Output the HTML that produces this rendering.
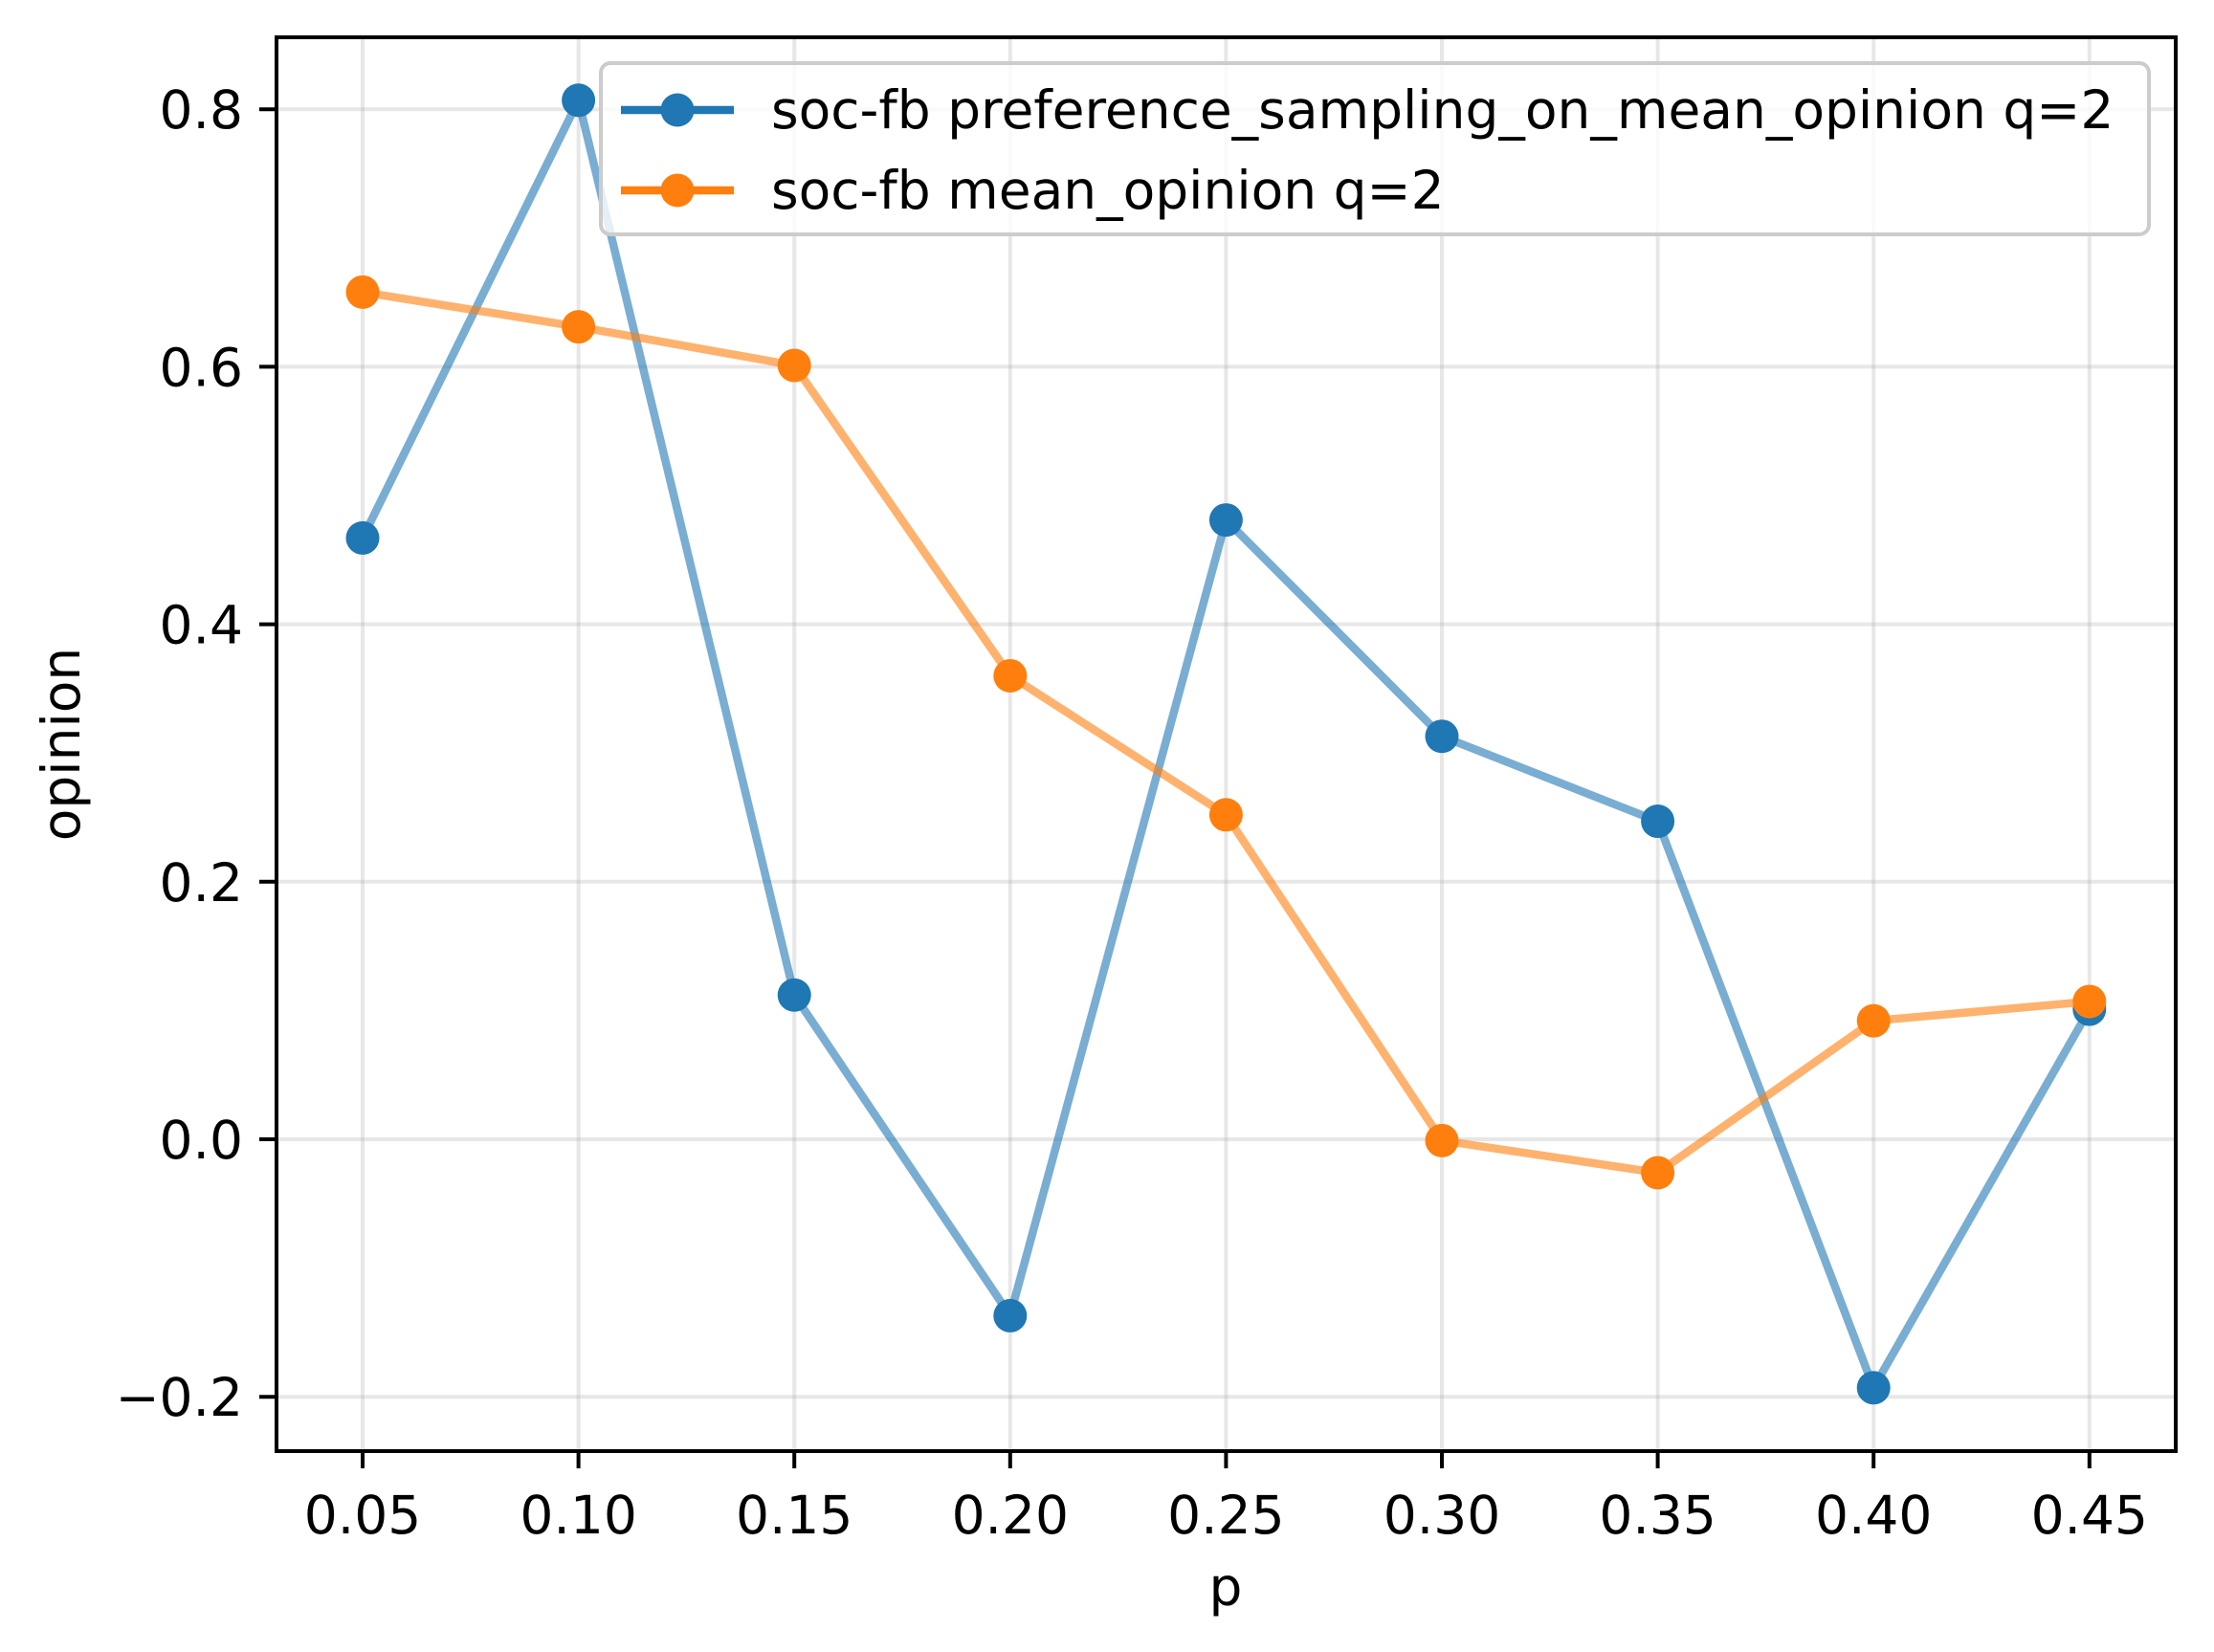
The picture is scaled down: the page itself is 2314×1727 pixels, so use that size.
<!DOCTYPE html>
<html><head><meta charset="utf-8"><style>
html,body{margin:0;padding:0;background:#fff}
svg{display:block;font-family:"DejaVu Sans","Liberation Sans",sans-serif}
</style></head><body>
<svg id="chart" width="2314" height="1727" viewBox="0 0 2314 1727">
<rect x="0" y="0" width="2314" height="1727" fill="#fff"/>
<g id="grid"></g>
<g id="series"></g>
<rect x="289" y="39" width="1985" height="1478" fill="none" stroke="#000" stroke-width="4"/>
<g id="ticks"></g>
<text x="68" y="778" font-size="55" text-anchor="middle" transform="rotate(-90 68 778)" dominant-baseline="middle">opinion</text>
<text x="1281" y="1678" font-size="55" text-anchor="middle">p</text>
<g>
<rect x="628" y="66" width="1618" height="179" rx="10" fill="#fff" fill-opacity="0.8" stroke="#ccc" stroke-width="4"/>
<g>
<line x1="649" y1="115" x2="767" y2="115" stroke="#1f77b4" stroke-width="8.5"/>
<circle cx="708" cy="115" r="17.5" fill="#1f77b4"/>
<text x="806" y="134" font-size="55">soc-fb preference_sampling_on_mean_opinion q=2</text>
</g>
<g>
<line x1="649" y1="199" x2="767" y2="199" stroke="#ff7f0e" stroke-width="8.5"/>
<circle cx="708" cy="199" r="17.5" fill="#ff7f0e"/>
<text x="806" y="218" font-size="55">soc-fb mean_opinion q=2</text>
</g>
</g>
</svg>
<script>
const categories = [0.05,0.10,0.15,0.20,0.25,0.30,0.35,0.40,0.45];
const xTickLabels = ["0.05","0.10","0.15","0.20","0.25","0.30","0.35","0.40","0.45"];
const yTicks = [-0.2,0.0,0.2,0.4,0.6,0.8];
const yTickLabels = ["\u22120.2","0.0","0.2","0.4","0.6","0.8"];
const prefSampling = [0.467,0.807,0.112,-0.137,0.481,0.313,0.247,-0.193,0.101];
const meanOpinion = [0.658,0.631,0.601,0.360,0.252,-0.001,-0.026,0.092,0.107];

const NS="http://www.w3.org/2000/svg";
function xs(v){return 379+(v-0.05)/0.05*225.6;}
function ys(v){return 1191-1346*v;}
function mk(tag,attrs,parent){const e=document.createElementNS(NS,tag);for(const k in attrs)e.setAttribute(k,attrs[k]);parent.appendChild(e);return e;}
const grid=document.getElementById('grid'),ticks=document.getElementById('ticks'),series=document.getElementById('series');
categories.forEach((c,i)=>{
  const x=xs(c);
  const g=mk('line',{x1:x,x2:x,y1:39,y2:1517,stroke:'#b0b0b0','stroke-opacity':0.3,'stroke-width':4},grid);
  
  
  const t=mk('line',{x1:x,x2:x,y1:1517,y2:1535,stroke:'#000','stroke-width':4},ticks);
  
  
  const l=mk('text',{x:x,y:1603,'font-size':55,'text-anchor':'middle'},ticks);
  l.textContent=xTickLabels[i];
  
  
});
yTicks.forEach((v,i)=>{
  const y=ys(v);
  const g=mk('line',{x1:289,x2:2274,y1:y,y2:y,stroke:'#b0b0b0','stroke-opacity':0.3,'stroke-width':4},grid);
  
  
  const t=mk('line',{x1:271,x2:289,y1:y,y2:y,stroke:'#000','stroke-width':4},ticks);
  
  
  const l=mk('text',{x:254,y:y+20,'font-size':55,'text-anchor':'end'},ticks);
  l.textContent=yTickLabels[i];
  
  
});
function drawSeries(vals,color,name){
  const g=mk('g',{},series);
  
  
  const pts=vals.map((v,i)=>xs(categories[i])+','+ys(v)).join(' ');
  const pl=mk('polyline',{points:pts,fill:'none',stroke:color,'stroke-opacity':0.6,'stroke-width':8.5,'stroke-linejoin':'round'},g);
  
  
  vals.forEach((v,i)=>{
    const c=mk('circle',{cx:xs(categories[i]),cy:ys(v),r:17.5,fill:color},g);
    
    
  });
}
drawSeries(prefSampling,'#1f77b4','preference-sampling-series');
drawSeries(meanOpinion,'#ff7f0e','mean-opinion-series');
</script>
</body></html>
